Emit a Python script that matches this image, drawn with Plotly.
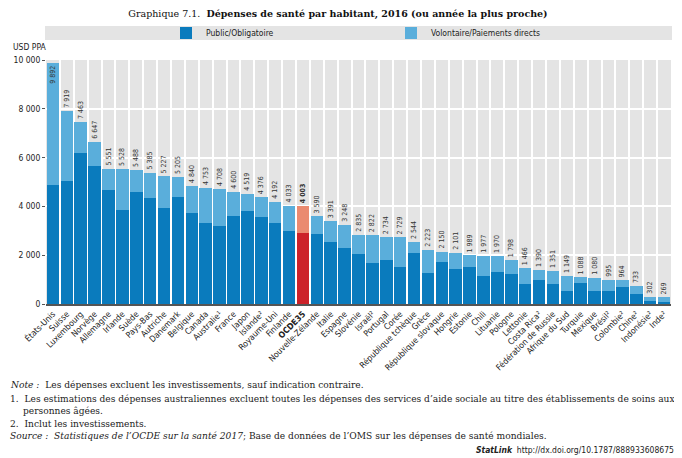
import plotly.graph_objects as go

countries = ["États-Unis", "Suisse", "Luxembourg", "Norvège", "Allemagne", "Irlande", "Suède",
             "Pays-Bas", "Autriche", "Danemark", "Belgique", "Canada", "Australie¹", "France",
             "Japon", "Islande²", "Royaume-Uni", "Finlande", "OCDE35", "Nouvelle-Zélande",
             "Italie", "Espagne", "Slovénie", "Israël²", "Portugal", "Corée",
             "République tchèque", "Grèce", "République slovaque", "Hongrie", "Estonie",
             "Chili", "Lituanie", "Pologne", "Lettonie", "Costa Rica²", "Fédération de Russie",
             "Afrique du Sud", "Turquie", "Mexique", "Brésil²", "Colombie²", "Chine²",
             "Indonésie²", "Inde²"]

total = [9892, 7919, 7463, 6647, 5551, 5528, 5488, 5385, 5227, 5205, 4840, 4753, 4708, 4600,
         4519, 4376, 4192, 4033, 4003, 3590, 3391, 3248, 2835, 2822, 2734, 2729, 2544, 2223,
         2150, 2101, 1989, 1977, 1970, 1798, 1466, 1390, 1351, 1149, 1088, 1080, 995, 964,
         733, 302, 269]

public = [4860, 5030, 6180, 5660, 4690, 3860, 4590, 4340, 3950, 4370, 3730, 3330, 3190, 3620,
          3800, 3580, 3300, 3010, 2920, 2860, 2530, 2290, 2030, 1690, 1800, 1530, 2080, 1280,
          1710, 1420, 1500, 1160, 1300, 1220, 810, 990, 800, 540, 850, 550, 520, 700,
          400, 110, 70]

voluntary = [t - p for t, p in zip(total, public)]
labels = [f"{t:,}".replace(",", " ") for t in total]

C_PUB, C_VOL = "#0a7bbd", "#5aaedb"
C_PUB_O, C_VOL_O = "#cc2229", "#ea8a70"
pub_colors = [C_PUB_O if c == "OCDE35" else C_PUB for c in countries]
vol_colors = [C_VOL_O if c == "OCDE35" else C_VOL for c in countries]
text_disp = [f"<b>{l}</b>" if c == "OCDE35" else l for c, l in zip(countries, labels)]
tick_disp = [f"<b>{c}</b>" if c == "OCDE35" else c for c in countries]
textpos = ["inside" if t > 9000 else "outside" for t in total]

NARROW = "Liberation Sans Narrow, DejaVu Sans Condensed, Arial Narrow, sans-serif"
SERIF = "DejaVu Serif, Liberation Serif, serif"

# page has an 8px body margin: work in reference pixels, shift by OFF
OFF = 8
W, H = 682 - OFF, 458 - OFF
PL, PR, PT, PB = 46, 671, 60, 304          # plot area in reference pixels
L, R, T, B = PL - OFF, W - (PR - OFF), PT - OFF, H - (PB - OFF)
pw, ph = W - L - R, H - T - B


def px(x):
    return (x - OFF - L) / pw


def py(y):
    return (H - B - (y - OFF)) / ph


fig = go.Figure()
fig.add_trace(go.Bar(x=countries, y=public, name="Public/Obligatoire", legend="legend",
                     showlegend=True,
                     marker=dict(color=pub_colors, line=dict(width=0))))
fig.add_trace(go.Bar(x=countries, y=voluntary, name="Volontaire/Paiements directs", legend="legend2",
                     showlegend=True,
                     marker=dict(color=vol_colors, line=dict(width=0)),
                     text=text_disp, textposition=textpos, textangle=-90,
                     insidetextanchor="end", constraintext="none", cliponaxis=False,
                     textfont=dict(size=7, color="#333333", family=NARROW)))

leg_common = dict(orientation="h", yanchor="middle", y=py(33), xanchor="left",
                  bgcolor="rgba(0,0,0,0)", font=dict(size=8.5, family=NARROW, color="#222222"))

fig.update_layout(
    width=W, height=H, margin=dict(l=L, r=R, t=T, b=B, autoexpand=False),
    paper_bgcolor="white", plot_bgcolor="#e4e4e4",
    barmode="stack", bargap=0.1, showlegend=True,
    separators=", ",
    font=dict(family=NARROW, size=9, color="#222222"),
    title=dict(text="Graphique 7.1.  <b>Dépenses de santé par habitant, 2016 (ou année la plus proche)</b>",
               x=(338 - OFF) / W, xanchor="center", y=1 - (13.5 - OFF) / H, yanchor="middle",
               yref="container", xref="container",
               font=dict(family=SERIF, size=9.5, color="#111111")),
    xaxis=dict(type="category", tickson="boundaries", showgrid=True, gridcolor="white",
               gridwidth=1.5, ticks="", tickangle=-45, tickvals=countries, ticktext=tick_disp,
               tickfont=dict(size=8.5, family=NARROW, color="#222222"),
               showline=True, linecolor="#555555", linewidth=1.5, zeroline=False),
    yaxis=dict(range=[0, 10000], dtick=2000, showgrid=True, gridcolor="white", gridwidth=1.5,
               tickformat=",d", ticks="outside", ticklen=3, tickcolor="#555555",
               tickfont=dict(size=8.5, family=NARROW, color="#222222"), zeroline=False,
               showline=False),
    legend=dict(x=px(166), **leg_common),
    legend2=dict(x=px(391), **leg_common),
    shapes=[dict(type="rect", xref="paper", yref="paper", x0=px(45), x1=px(672),
                 y0=py(40), y1=py(26), fillcolor="#e4e4e4", line=dict(width=0), layer="below")],
)

notes = [
    ("<i>Note :</i>  Les dépenses excluent les investissements, sauf indication contraire.", 0, 385),
    ("1.  Les estimations des dépenses australiennes excluent toutes les dépenses des services d’aide sociale au titre des établissements de soins aux", 0, 399),
    ("personnes âgées.", 13, 411),
    ("2.  Inclut les investissements.", 0, 424),
    ("<i>Source :  Statistiques de l’OCDE sur la santé 2017</i>; Base de données de l’OMS sur les dépenses de santé mondiales.", 0, 436),
]
ann = []
for txt, x, y in notes:
    ann.append(dict(text=txt, xref="paper", yref="paper", x=px(x + OFF), y=py(y), xanchor="left",
                    yanchor="middle", showarrow=False,
                    font=dict(family=SERIF, size=9.1, color="#222222")))
ann.append(dict(text="<b><i>StatLink</i></b>  http://dx.doi.org/10.1787/888933608675", xref="paper",
                yref="paper", x=px(676), y=py(450), xanchor="right", yanchor="middle",
                showarrow=False, font=dict(family=NARROW, size=8.5, color="#222222")))
ann.append(dict(text="USD PPA", xref="paper", yref="paper", x=px(3 + OFF), y=py(47), xanchor="left",
                yanchor="middle", showarrow=False, font=dict(family=NARROW, size=8.5, color="#222222")))
fig.update_layout(annotations=ann)

fig.write_html("out.html")
